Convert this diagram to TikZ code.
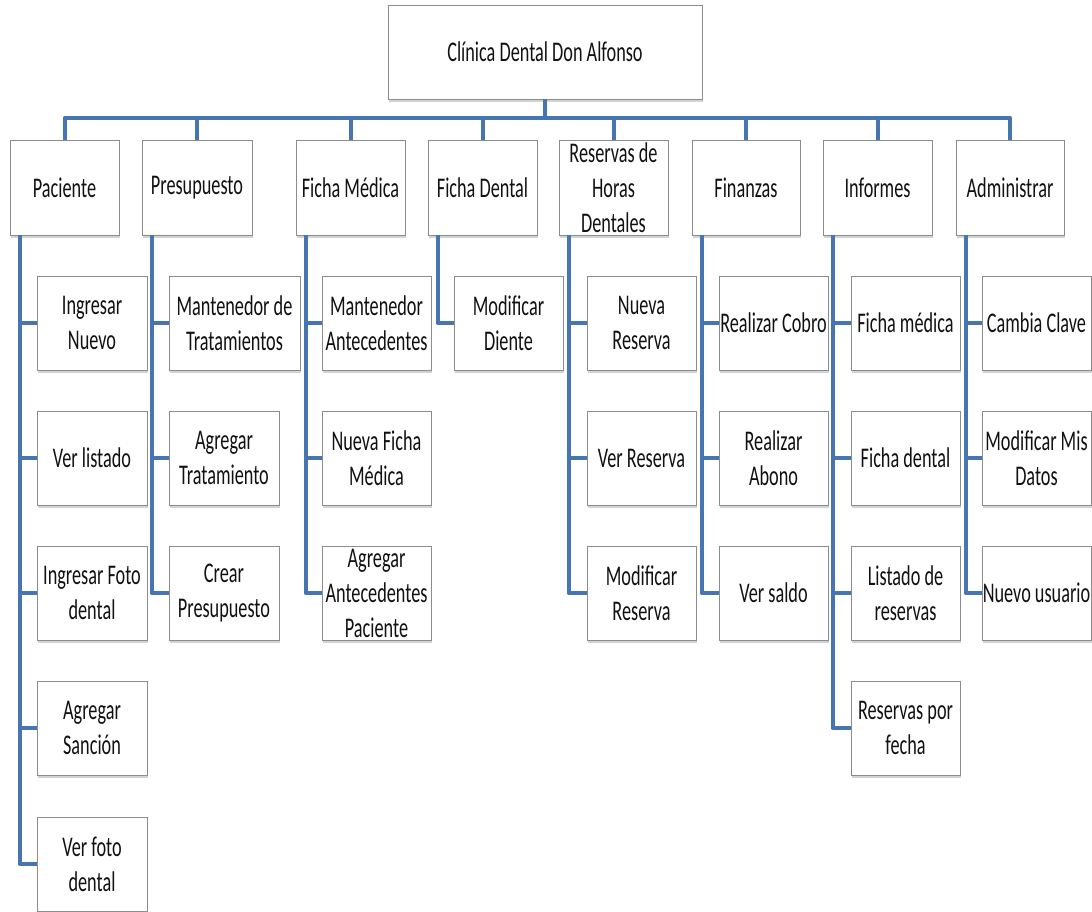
\documentclass[tikz,border=0pt]{standalone}
\usepackage{fontspec}
\setmainfont{Carlito}[FakeStretch=0.64]
\usetikzlibrary{shadows}
\definecolor{connc}{HTML}{4775B2}
\definecolor{bord}{HTML}{8C8C8C}
\definecolor{txt}{HTML}{111111}
\begin{document}
\begin{tikzpicture}[x=1pt,y=-1pt,
  box/.style={draw=bord, line width=0.8pt, fill=white, minimum height=94pt, inner sep=0pt,
    drop shadow={shadow xshift=1pt, shadow yshift=-2.5pt, opacity=0.35}},
  lbl/.style={font=\fontsize{28.5}{35}\selectfont, text=txt, align=center, inner sep=0pt},
  conn/.style={draw=connc, line width=4pt, line join=round}]
\useasboundingbox (0,0) rectangle (1092,911);

% root
\node[box, minimum width=314pt, label={[lbl]center:Clínica Dental Don Alfonso}] (root) at (545,52) {};

% level 1
\node[box, minimum width=109pt, minimum height=95pt, label={[lbl]center:Paciente}] (pac) at (64.5,187.5) {};
\node[box, minimum width=110pt, minimum height=95pt, label={[lbl]center:Presupuesto}] (pre) at (197,187.5) {};
\node[box, minimum width=109pt, minimum height=95pt, label={[lbl]center:Ficha Médica}] (fm) at (350.5,187.5) {};
\node[box, minimum width=109pt, minimum height=95pt, label={[lbl]center:Ficha Dental}] (fd) at (482.5,187.5) {};
\node[box, minimum width=109pt, minimum height=95pt, label={[lbl]center:{Reservas de\\Horas\\Dentales}}] (res) at (613.5,187.5) {};
\node[box, minimum width=108pt, minimum height=95pt, label={[lbl]center:Finanzas}] (fin) at (746,187.5) {};
\node[box, minimum width=109pt, minimum height=95pt, label={[lbl]center:Informes}] (inf) at (877.5,187.5) {};
\node[box, minimum width=108pt, minimum height=95pt, label={[lbl]center:Administrar}] (adm) at (1010,187.5) {};

% Paciente children
\node[box, minimum width=110pt, label={[lbl]center:{Ingresar\\Nuevo}}] (pac1) at (92,323) {};
\node[box, minimum width=110pt, label={[lbl]center:Ver listado}] (pac2) at (92,458) {};
\node[box, minimum width=110pt, label={[lbl]center:{Ingresar Foto\\dental}}] (pac3) at (92,593) {};
\node[box, minimum width=110pt, label={[lbl]center:{Agregar\\Sanción}}] (pac4) at (92,728) {};
\node[box, minimum width=110pt, label={[lbl]center:{Ver foto\\dental}}] (pac5) at (92,864) {};

% Presupuesto children
\node[box, minimum width=131pt, label={[lbl]center:{Mantenedor de\\Tratamientos}}] (pre1) at (234.5,323) {};
\node[box, minimum width=110pt, label={[lbl]center:{Agregar\\Tratamiento}}] (pre2) at (224,458) {};
\node[box, minimum width=110pt, label={[lbl]center:{Crear\\Presupuesto}}] (pre3) at (224,593) {};

% Ficha Medica children
\node[box, minimum width=109pt, label={[lbl]center:{Mantenedor\\Antecedentes}}] (fm1) at (376.5,323) {};
\node[box, minimum width=109pt, label={[lbl]center:{Nueva Ficha\\Médica}}] (fm2) at (376.5,458) {};
\node[box, minimum width=109pt, label={[lbl]center:{Agregar\\Antecedentes\\Paciente}}] (fm3) at (376.5,593) {};

% Ficha Dental children
\node[box, minimum width=109pt, label={[lbl]center:{Modificar\\Diente}}] (fd1) at (508.5,323) {};

% Reservas children
\node[box, minimum width=109pt, label={[lbl]center:{Nueva\\Reserva}}] (res1) at (641.5,323) {};
\node[box, minimum width=109pt, label={[lbl]center:Ver Reserva}] (res2) at (641.5,458) {};
\node[box, minimum width=109pt, label={[lbl]center:{Modificar\\Reserva}}] (res3) at (641.5,593) {};

% Finanzas children
\node[box, minimum width=109pt, label={[lbl]center:Realizar Cobro}] (fin1) at (773.5,323) {};
\node[box, minimum width=109pt, label={[lbl]center:{Realizar\\Abono}}] (fin2) at (773.5,458) {};
\node[box, minimum width=109pt, label={[lbl]center:Ver saldo}] (fin3) at (773.5,593) {};

% Informes children
\node[box, minimum width=109pt, label={[lbl]center:Ficha médica}] (inf1) at (905.5,323) {};
\node[box, minimum width=109pt, label={[lbl]center:Ficha dental}] (inf2) at (905.5,458) {};
\node[box, minimum width=109pt, label={[lbl]center:{Listado de\\reservas}}] (inf3) at (905.5,593) {};
\node[box, minimum width=109pt, label={[lbl]center:{Reservas por\\fecha}}] (inf4) at (905.5,728) {};

% Administrar children
\node[box, minimum width=109pt, label={[lbl]center:Cambia Clave}] (adm1) at (1036.5,323) {};
\node[box, minimum width=109pt, label={[lbl]center:{Modificar Mis\\Datos}}] (adm2) at (1036.5,458) {};
\node[box, minimum width=109pt, label={[lbl]center:Nuevo usuario}] (adm3) at (1036.5,593) {};

% bus connectors
\foreach \n in {pac,pre,fm,fd,res,fin,inf,adm}
  \draw[conn] (\n.north) -- ++(0,-22) -| (root.south);

% trunk connectors
\foreach \p/\c in {pac/pac1,pac/pac2,pac/pac3,pac/pac4,pac/pac5,
                   pre/pre1,pre/pre2,pre/pre3,
                   fm/fm1,fm/fm2,fm/fm3,
                   fd/fd1,
                   res/res1,res/res2,res/res3,
                   fin/fin1,fin/fin2,fin/fin3,
                   inf/inf1,inf/inf2,inf/inf3,inf/inf4,
                   adm/adm1,adm/adm2,adm/adm3}
  \draw[conn] ([xshift=10pt]\p.south west) |- (\c.west);
\end{tikzpicture}
\end{document}
